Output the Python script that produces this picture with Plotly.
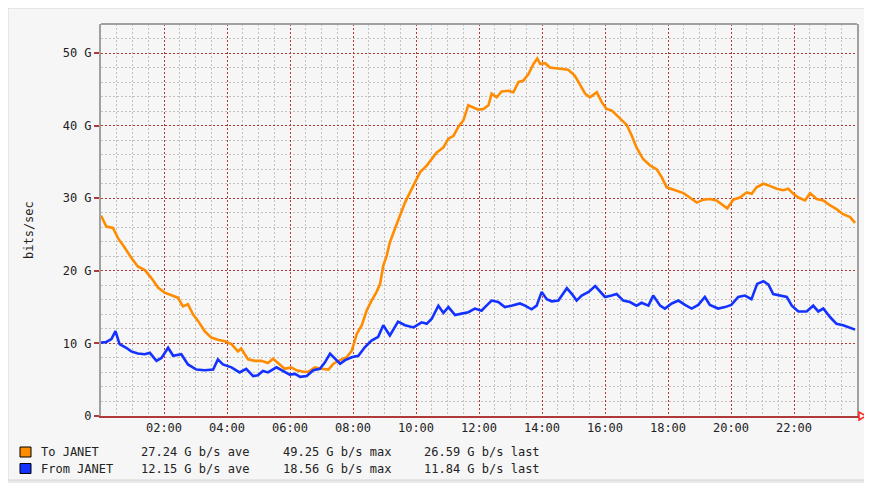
import plotly.graph_objects as go

# ---- data (hours since midnight, Gbit/s) ----
to_t = [0.0, 0.17, 0.38, 0.54, 0.75, 0.96, 1.17, 1.39, 1.6, 1.81, 2.02, 2.23, 2.44, 2.6, 2.76, 2.92,
        3.08, 3.29, 3.5, 3.71, 3.93, 4.14, 4.35, 4.45, 4.67, 4.88, 5.09, 5.3, 5.46, 5.62, 5.83, 6.04,
        6.21, 6.42, 6.58, 6.79, 7.0, 7.22, 7.38, 7.59, 7.8, 7.96, 8.12, 8.28, 8.43, 8.59, 8.75, 8.86,
        8.96, 9.07, 9.17, 9.33, 9.49, 9.65, 9.81, 9.97, 10.13, 10.34, 10.5, 10.66, 10.87, 11.03, 11.19,
        11.34, 11.5, 11.66, 11.82, 11.98, 12.14, 12.3, 12.4, 12.56, 12.72, 12.93, 13.09, 13.25, 13.41,
        13.57, 13.73, 13.85, 13.94, 14.1, 14.25, 14.46, 14.67, 14.83, 15.04, 15.21, 15.37, 15.52, 15.74,
        15.9, 16.05, 16.21, 16.37, 16.53, 16.69, 16.85, 17.0, 17.21, 17.43, 17.64, 17.8, 17.96, 18.17,
        18.36, 18.49, 18.69, 18.91, 19.12, 19.33, 19.54, 19.7, 19.88, 20.07, 20.28, 20.5, 20.66, 20.81,
        21.03, 21.23, 21.45, 21.66, 21.82, 21.98, 22.14, 22.35, 22.51, 22.72, 22.93, 23.15, 23.35, 23.56,
        23.78, 23.94]
to_v = [27.6, 26.1, 25.9, 24.5, 23.2, 21.8, 20.6, 20.1, 19.0, 17.7, 17.0, 16.7, 16.3, 15.1, 15.4, 14.0,
        13.1, 11.7, 10.8, 10.5, 10.3, 9.9, 8.9, 9.3, 7.8, 7.6, 7.6, 7.3, 7.9, 7.3, 6.5, 6.7,
        6.3, 6.1, 6.1, 6.7, 6.5, 6.4, 7.2, 7.7, 8.1, 9.0, 11.3, 12.5, 14.5, 15.9, 17.1, 18.2,
        20.7, 22.1, 23.9, 25.8, 27.6, 29.4, 30.8, 32.2, 33.6, 34.5, 35.4, 36.3, 37.0, 38.2, 38.6,
        39.8, 40.7, 42.8, 42.5, 42.2, 42.3, 42.8, 44.4, 43.9, 44.7, 44.8, 44.6, 46.0, 46.2,
        47.1, 48.5, 49.25, 48.5, 48.6, 48.0, 47.9, 47.7, 47.7, 46.9, 45.5, 44.4, 43.9, 44.6,
        43.2, 42.3, 42.1, 41.4, 40.7, 40.1, 38.6, 37.0, 35.4, 34.5, 34.0, 32.9, 31.5, 31.2,
        30.9, 30.7, 30.1, 29.4, 29.8, 29.9, 29.7, 29.2, 28.6, 29.8, 30.1, 30.8, 30.6, 31.5,
        32.0, 31.7, 31.3, 31.1, 31.3, 30.6, 30.1, 29.7, 30.7, 29.9, 29.7, 29.0, 28.5, 27.8,
        27.4, 26.6]

from_t = [0.0, 0.17, 0.33, 0.46, 0.59, 0.8, 0.96, 1.17, 1.39, 1.55, 1.76, 1.92, 2.13, 2.29, 2.55, 2.76,
          3.03, 3.29, 3.56, 3.71, 3.87, 4.14, 4.4, 4.61, 4.83, 4.98, 5.14, 5.3, 5.57, 5.78, 5.99, 6.16,
          6.32, 6.53, 6.74, 6.95, 7.11, 7.27, 7.43, 7.59, 7.75, 7.96, 8.17, 8.38, 8.59, 8.8, 8.96, 9.17,
          9.43, 9.65, 9.92, 10.18, 10.34, 10.5, 10.71, 10.87, 11.03, 11.24, 11.45, 11.66, 11.87, 12.08,
          12.19, 12.4, 12.61, 12.82, 13.03, 13.3, 13.46, 13.67, 13.83, 13.99, 14.15, 14.31, 14.52, 14.79,
          14.95, 15.1, 15.26, 15.48, 15.69, 15.85, 16.0, 16.21, 16.37, 16.58, 16.79, 17.0, 17.16, 17.38,
          17.53, 17.75, 17.9, 18.12, 18.33, 18.54, 18.75, 18.96, 19.17, 19.33, 19.59, 19.81, 20.01, 20.23,
          20.44, 20.65, 20.83, 21.03, 21.19, 21.34, 21.56, 21.77, 21.93, 22.14, 22.4, 22.61, 22.77, 22.93,
          23.15, 23.35, 23.56, 23.78, 23.94]
from_v = [10.1, 10.2, 10.6, 11.7, 9.9, 9.4, 8.9, 8.6, 8.5, 8.7, 7.6, 8.0, 9.4, 8.3, 8.5, 7.1,
          6.4, 6.3, 6.4, 7.8, 7.1, 6.7, 6.0, 6.5, 5.5, 5.6, 6.2, 6.0, 6.7, 6.2, 5.7, 5.8,
          5.4, 5.5, 6.3, 6.5, 7.4, 8.6, 7.9, 7.2, 7.7, 8.1, 8.3, 9.5, 10.4, 10.9, 12.5, 11.1,
          13.0, 12.5, 12.2, 12.9, 12.7, 13.4, 15.2, 14.2, 15.0, 13.9, 14.1, 14.3, 14.8, 14.5,
          15.0, 15.9, 15.7, 15.0, 15.2, 15.5, 15.2, 14.7, 15.2, 17.1, 16.1, 15.8, 15.9, 17.6,
          16.8, 15.9, 16.6, 17.1, 17.9, 17.1, 16.4, 16.6, 16.8, 15.9, 15.7, 15.2, 15.6, 15.2,
          16.6, 15.2, 14.8, 15.5, 15.9, 15.3, 14.8, 15.3, 16.4, 15.3, 14.8, 15.0, 15.3, 16.4,
          16.6, 16.1, 18.2, 18.56, 18.1, 16.8, 16.6, 16.4, 15.2, 14.4, 14.4, 15.2, 14.4, 14.8,
          13.6, 12.7, 12.5, 12.1, 11.9]

x_tick_vals = [2, 4, 6, 8, 10, 12, 14, 16, 18, 20, 22]
x_tick_text = ["02:00", "04:00", "06:00", "08:00", "10:00", "12:00", "14:00", "16:00", "18:00", "20:00", "22:00"]
y_tick_vals = [0, 10, 20, 30, 40, 50]
y_tick_text = ["0", "10 G", "20 G", "30 G", "40 G", "50 G"]

series_names = ["To JANET", "From JANET"]
series_ave = ["27.24 G b/s ave", "12.15 G b/s ave"]
series_max = ["49.25 G b/s max", "18.56 G b/s max"]
series_last = ["26.59 G b/s last", "11.84 G b/s last"]
series_colors = ["#ff8c00", "#1432ff"]

# ---- layout geometry (page pixels; the page body adds an 8px offset) ----
OFF = 8
W, H = 872 - OFF, 483 - OFF
L, R, T, B = 101 - OFF, 857 - OFF, 24 - OFF, 416 - OFF
PW, PH = R - L, B - T


def px(xp):
    return (xp - OFF - L) / PW


def py(yp):
    return (B - (yp - OFF)) / PH


FONT = "DejaVu Sans Mono"
RED = "#b03a3a"
GRAY = "#c2c2c2"

fig = go.Figure()
fig.add_trace(go.Scatter(x=to_t, y=to_v, mode="lines", line=dict(color=series_colors[0], width=2.6),
                         showlegend=False, hoverinfo="skip"))
fig.add_trace(go.Scatter(x=from_t, y=from_v, mode="lines", line=dict(color=series_colors[1], width=2.6),
                         showlegend=False, hoverinfo="skip"))

shapes = []
# outer frame
shapes.append(dict(type="rect", xref="paper", yref="paper", x0=px(OFF), x1=px(869), y0=py(OFF), y1=py(480),
                   fillcolor="#f6f6f6", line=dict(color="#d6d6d6", width=1), layer="below"))
# top border of plot
shapes.append(dict(type="line", xref="paper", yref="paper", x0=0, x1=1, y0=1, y1=1,
                   line=dict(color="#a0a0a0", width=2)))
# arrow at end of x axis
shapes.append(dict(type="path", xref="paper", yref="paper", xsizemode="pixel", ysizemode="pixel",
                   xanchor=1, yanchor=0, path="M 2,-4 L 9,0 L 2,4 Z",
                   line=dict(color="#ff2020", width=1.5), fillcolor="rgba(0,0,0,0)"))
# legend boxes
for i, c in enumerate(series_colors):
    y0 = 447 + i * 16.5
    shapes.append(dict(type="rect", xref="paper", yref="paper", x0=px(20), x1=px(31),
                       y0=py(y0 + 10), y1=py(y0), fillcolor=c, line=dict(color="#000000", width=1)))

annotations = [dict(text="bits/sec", x=px(20), y=py(230), xref="paper", yref="paper", textangle=-90,
                    showarrow=False, font=dict(family=FONT, size=12, color="#222222"))]
cols = [(39, series_names), (139, series_ave), (281, series_max), (422, series_last)]
for i in range(2):
    yc = 452 + i * 16.5
    for xs, arr in cols:
        annotations.append(dict(text=arr[i], x=px(xs), y=py(yc), xref="paper", yref="paper",
                                xanchor="left", yanchor="middle", showarrow=False,
                                font=dict(family=FONT, size=12, color="#222222")))

fig.update_layout(
    width=W, height=H,
    margin=dict(l=L, r=W - R, t=T, b=H - B, pad=0),
    paper_bgcolor="#e9e9e9", plot_bgcolor="#ffffff",
    shapes=shapes, annotations=annotations,
    font=dict(family=FONT, size=12, color="#222222"),
)
fig.update_xaxes(
    range=[0, 24], tickmode="array", tickvals=x_tick_vals, ticktext=x_tick_text,
    showgrid=True, gridcolor=RED, griddash="2px,2px", gridwidth=1,
    minor=dict(tickmode="linear", tick0=0, dtick=0.5, showgrid=True, gridcolor=GRAY,
               griddash="2px,2px", gridwidth=1),
    showline=True, linecolor=RED, linewidth=2, mirror=False, ticks="", zeroline=False,
    tickfont=dict(family=FONT, size=12, color="#222222"), fixedrange=True,
)
fig.update_yaxes(
    range=[0, 54], tickmode="array", tickvals=y_tick_vals, ticktext=y_tick_text,
    showgrid=True, gridcolor=RED, griddash="2px,2px", gridwidth=1,
    minor=dict(tickmode="linear", tick0=0, dtick=2, showgrid=True, gridcolor=GRAY,
               griddash="2px,2px", gridwidth=1),
    showline=True, linecolor="#a0a0a0", linewidth=2, mirror=True,
    ticks="outside", ticklen=5, tickcolor=RED, tickwidth=2, zeroline=False,
    tickfont=dict(family=FONT, size=12, color="#222222"), fixedrange=True,
)

fig.write_html("out.html")
